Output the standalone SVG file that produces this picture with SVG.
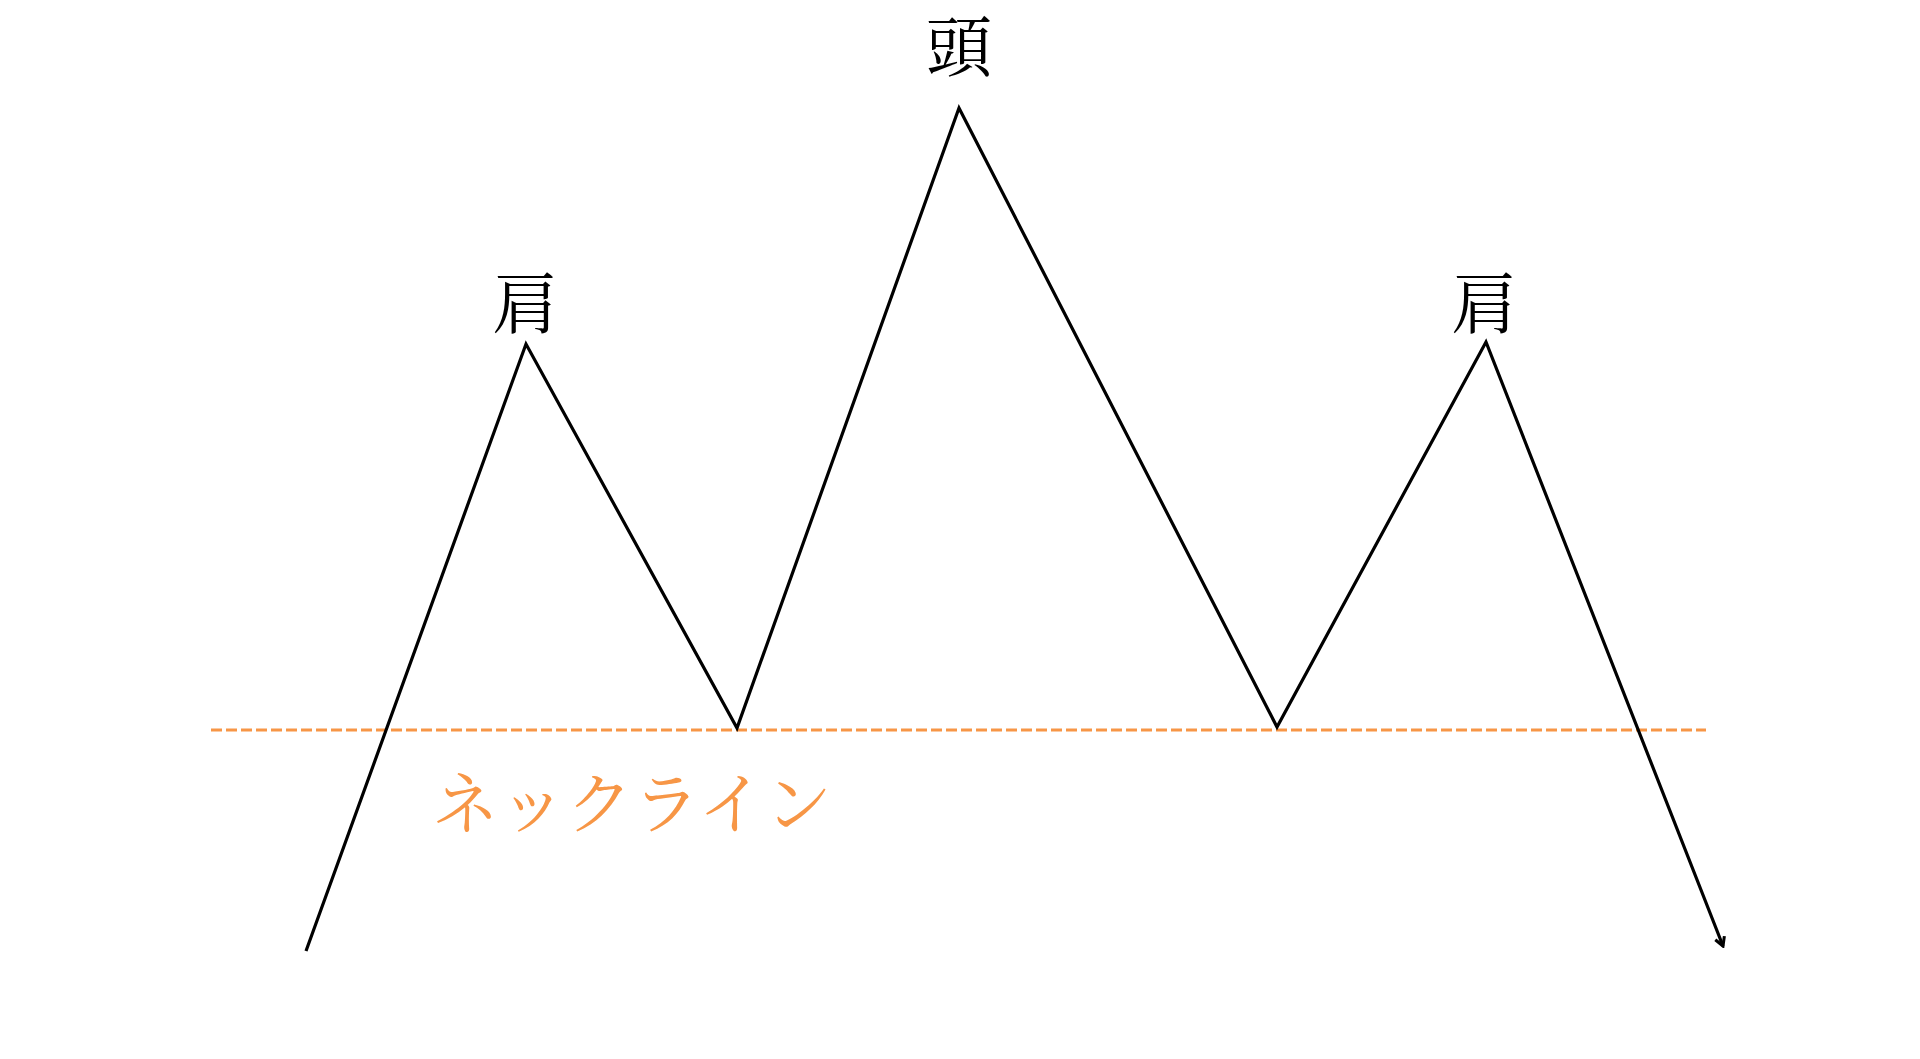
<svg xmlns="http://www.w3.org/2000/svg" width="1920" height="1059" viewBox="0 0 1920 1059">
<style>
.lbl{font-family:"Noto Serif CJK JP","Noto Sans CJK JP",serif;fill:#000;text-anchor:middle;dominant-baseline:central}
.neck{font-family:"Noto Serif CJK JP","Noto Sans CJK JP",serif;fill:#F79646;text-anchor:middle;dominant-baseline:central}
.price{fill:none;stroke:#000;stroke-width:3.2;stroke-linejoin:miter}
.nl{stroke:#F79646;stroke-width:3;stroke-dasharray:11 4}
</style>
<defs>
<marker id="arr" viewBox="0 0 12 12" refX="10" refY="6" markerWidth="13" markerHeight="13" markerUnits="userSpaceOnUse" orient="auto">
<path d="M2,1.5 L10,6 L2,10.5" fill="none" stroke="#000" stroke-width="2.8"/>
</marker>
</defs>
<rect width="1920" height="1059" fill="#fff"/>
<g id="connectors">
<line class="nl" x1="211" y1="730" x2="1706" y2="730"/>
<polyline class="price" points="306,951 526,344 737,728 959,108 1277,727 1486,342 1723,946" marker-end="url(#arr)"/>
</g>
<g id="head"><text class="lbl" x="959" y="42" font-size="66">頭</text></g>
<g id="shoulder-left"><text class="lbl" x="525" y="299" font-size="66">肩</text></g>
<g id="shoulder-right"><text class="lbl" x="1484" y="299" font-size="66">肩</text></g>
<g id="neckline-label"><text class="neck" x="632" y="799" font-size="67">ネックライン</text></g>
</svg>
